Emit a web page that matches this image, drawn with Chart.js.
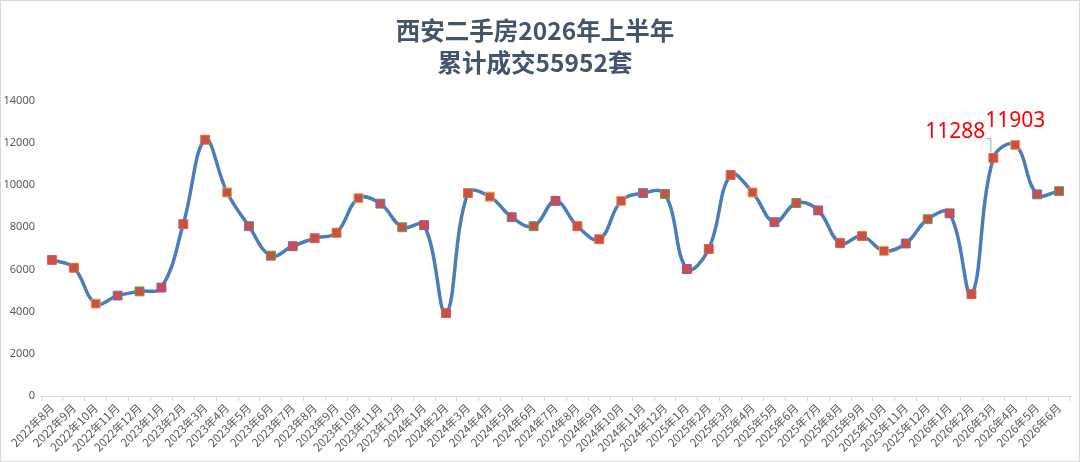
<!DOCTYPE html>
<html>
<head>
<meta charset="utf-8">
<script src="https://cdn.jsdelivr.net/npm/chart.js@4/dist/chart.umd.min.js"></script>
<style>
html,body{margin:0;padding:0;background:#fff;}
#wrap{width:1080px;height:462px;position:relative;}
</style>
</head>
<body>
<div id="wrap"><canvas id="c" width="1080" height="462"></canvas></div>
<script>
const categories = [
  "2022年8月","2022年9月","2022年10月","2022年11月","2022年12月",
  "2023年1月","2023年2月","2023年3月","2023年4月","2023年5月","2023年6月","2023年7月","2023年8月","2023年9月","2023年10月","2023年11月","2023年12月",
  "2024年1月","2024年2月","2024年3月","2024年4月","2024年5月","2024年6月","2024年7月","2024年8月","2024年9月","2024年10月","2024年11月","2024年12月",
  "2025年1月","2025年2月","2025年3月","2025年4月","2025年5月","2025年6月","2025年7月","2025年8月","2025年9月","2025年10月","2025年11月","2025年12月",
  "2026年1月","2026年2月","2026年3月","2026年4月","2026年5月","2026年6月"
];
const volumes = [
  6450, 6080, 4380, 4760, 4960,
  5140, 8150, 12150, 9650, 8050, 6650, 7100, 7480, 7740, 9380, 9120, 8000,
  8100, 3930, 9620, 9450, 8480, 8050, 9250, 8050, 7430, 9250, 9620, 9580,
  6020, 6970, 10480, 9650, 8240, 9150, 8800, 7250, 7580, 6880, 7230, 8380,
  8660, 4830, 11288, 11903, 9560, 9711
];
const titleLines = ["西安二手房2026年上半年", "累计成交55952套"];
const yTicks = [0, 2000, 4000, 6000, 8000, 10000, 12000, 14000];
const labelledPoints = [43, 44];

const markerEdge = ["#E05A50","#E0702E","#F0A040","#6A74C8","#5FA050","#9A50B0"];
const edgeColors = volumes.map((v, i) => markerEdge[i % markerEdge.length]);

const framePlugin = {
  id: 'frame',
  beforeDraw(chart) {
    const ctx = chart.ctx;
    ctx.save();
    ctx.fillStyle = '#ffffff';
    ctx.fillRect(0, 0, chart.width, chart.height);
    ctx.restore();
  },
  afterDraw(chart) {
    const ctx = chart.ctx;
    ctx.save();
    ctx.strokeStyle = '#D9D9D9';
    ctx.lineWidth = 1;
    ctx.strokeRect(0.5, 0.5, chart.width - 1, chart.height - 1);
    ctx.restore();
  }
};

const labelPlugin = {
  id: 'pointLabels',
  afterDatasetsDraw(chart) {
    const ctx = chart.ctx;
    const meta = chart.getDatasetMeta(0);
    ctx.save();
    ctx.font = '21px "Noto Sans", "Open Sans", sans-serif';
    ctx.fillStyle = '#FF0000';
    ctx.textBaseline = 'middle';
    const p1 = meta.data[labelledPoints[0]];
    ctx.textAlign = 'right';
    ctx.fillText(String(volumes[labelledPoints[0]]), p1.x - 8, p1.y - 26);
    ctx.strokeStyle = '#A6A6A6';
    ctx.lineWidth = 1;
    ctx.beginPath();
    ctx.moveTo(p1.x - 7, p1.y - 19.5);
    ctx.lineTo(p1.x - 2.5, p1.y - 19.5);
    ctx.lineTo(p1.x - 2.5, p1.y - 6);
    ctx.stroke();
    const p2 = meta.data[labelledPoints[1]];
    ctx.textAlign = 'center';
    ctx.fillText(String(volumes[labelledPoints[1]]), p2.x, p2.y - 24);
    ctx.restore();
  }
};

new Chart(document.getElementById('c'), {
  type: 'line',
  data: {
    labels: categories,
    datasets: [{
      data: volumes,
      borderColor: '#4A7EBB',
      borderWidth: 3.5,
      tension: 0.4,
      fill: false,
      pointStyle: 'rect',
      pointRadius: 6.3,
      pointHoverRadius: 6.3,
      pointBackgroundColor: '#C8504A',
      pointBorderColor: edgeColors,
      pointBorderWidth: 1
    }]
  },
  options: {
    responsive: false,
    animation: false,
    devicePixelRatio: 1,
    layout: { padding: { left: 0, right: 10, top: 0, bottom: 0 } },
    plugins: {
      legend: { display: false },
      tooltip: { enabled: false },
      title: {
        display: true,
        text: titleLines,
        color: '#44546A',
        font: { family: '"Noto Sans CJK SC", sans-serif', size: 24.5, weight: 'bold', lineHeight: 1.3 },
        padding: { top: 15, bottom: 22 }
      }
    },
    scales: {
      x: {
        offset: true,
        grid: { display: true, drawOnChartArea: false, drawTicks: true, tickLength: 5, color: '#D9D9D9', offset: true },
        border: { display: true, color: '#D9D9D9' },
        ticks: {
          autoSkip: false,
          maxRotation: 45,
          minRotation: 45,
          color: '#595959',
          padding: 0,
          font: { family: '"Noto Sans CJK SC", sans-serif', size: 11.5 }
        },
        afterFit(s) { s.height = 66; }
      },
      y: {
        min: 0,
        max: 14000,
        afterBuildTicks(s) { s.ticks = yTicks.map(v => ({ value: v })); },
        grid: { display: false, drawTicks: false },
        border: { display: false },
        ticks: {
          color: '#595959',
          padding: 6,
          callback: (v) => String(v),
          font: { family: '"Noto Sans", sans-serif', size: 11 }
        },
        afterFit(s) { s.width = 41; }
      }
    }
  },
  plugins: [framePlugin, labelPlugin]
});
</script>
</body>
</html>
